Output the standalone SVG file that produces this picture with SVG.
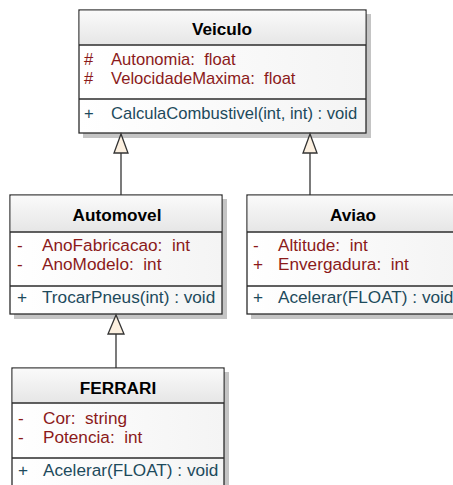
<svg xmlns="http://www.w3.org/2000/svg" width="453" height="485" viewBox="0 0 453 485">
<defs>
<linearGradient id="hdr" x1="0" y1="0" x2="0" y2="1">
<stop offset="0" stop-color="#fafafa"/>
<stop offset="1" stop-color="#e6e6e6"/>
</linearGradient>
<linearGradient id="body" x1="0" y1="0" x2="1" y2="0">
<stop offset="0" stop-color="#ffffff"/>
<stop offset="1" stop-color="#f4f4f4"/>
</linearGradient>
</defs>
<style>
text{font-family:"Liberation Sans",Arial,sans-serif;font-size:17.2px}
#Veiculo text.attr,#Veiculo text.meth{font-size:16.6px}
.title{font-weight:bold;text-anchor:middle;fill:#000}
.attr{fill:#8b1a1a}
.meth{fill:#1d4a5c}
.shadow{fill:#c4c4c4}
.frame{fill:url(#body);stroke:#2b2b2b;stroke-width:1.3}
.head{fill:url(#hdr)}
.sep{stroke:#2b2b2b;stroke-width:1.3}
.conn line{stroke:#333;stroke-width:1.3}
.conn polygon{fill:#fcf0e0;stroke:#333;stroke-width:1.3}
</style>
<rect width="453" height="485" fill="#fff"/>

<g id="Veiculo">
<rect class="shadow" x="83" y="14" width="288" height="124"/>
<rect class="frame" x="79" y="10" width="287" height="123"/>
<rect class="head" x="79.7" y="10.7" width="285.6" height="34"/>
<line class="sep" x1="79" y1="45" x2="366" y2="45"/>
<line class="sep" x1="79" y1="99" x2="366" y2="99"/>
<text class="title" x="222" y="35">Veiculo</text>
<text class="attr" x="84" y="65">#</text><text class="attr" x="111" y="65" xml:space="preserve">Autonomia:  float</text>
<text class="attr" x="84" y="84">#</text><text class="attr" x="111" y="84" xml:space="preserve">VelocidadeMaxima:  float</text>
<text class="meth" x="84" y="119">+</text><text class="meth" x="111" y="119">CalculaCombustivel(int, int) : void</text>
</g>

<g id="Automovel">
<rect class="shadow" x="14" y="199" width="213" height="120"/>
<rect class="frame" x="10" y="195" width="212" height="119"/>
<rect class="head" x="10.7" y="195.7" width="210.6" height="36"/>
<line class="sep" x1="10" y1="232" x2="222" y2="232"/>
<line class="sep" x1="10" y1="286" x2="222" y2="286"/>
<text class="title" x="117" y="221">Automovel</text>
<text class="attr" x="17" y="251">-</text><text class="attr" x="42" y="251" xml:space="preserve">AnoFabricacao:  int</text>
<text class="attr" x="17" y="270">-</text><text class="attr" x="42" y="270" xml:space="preserve">AnoModelo:  int</text>
<text class="meth" x="17" y="303">+</text><text class="meth" x="42" y="303">TrocarPneus(int) : void</text>
</g>

<g id="Aviao">
<rect class="shadow" x="251" y="199" width="213" height="120"/>
<rect class="frame" x="247" y="195" width="212" height="119"/>
<rect class="head" x="247.7" y="195.7" width="210.6" height="36"/>
<line class="sep" x1="247" y1="232" x2="459" y2="232"/>
<line class="sep" x1="247" y1="286" x2="459" y2="286"/>
<text class="title" x="353" y="221">Aviao</text>
<text class="attr" x="253" y="251">-</text><text class="attr" x="278" y="251" xml:space="preserve">Altitude:  int</text>
<text class="attr" x="253" y="270">+</text><text class="attr" x="278" y="270" xml:space="preserve">Envergadura:  int</text>
<text class="meth" x="253" y="303">+</text><text class="meth" x="278" y="303">Acelerar(FLOAT) : void</text>
</g>

<g id="FERRARI">
<rect class="shadow" x="16" y="372" width="213" height="120"/>
<rect class="frame" x="12" y="368" width="212" height="119"/>
<rect class="head" x="12.7" y="368.7" width="210.6" height="34"/>
<line class="sep" x1="12" y1="403" x2="224" y2="403"/>
<line class="sep" x1="12" y1="458" x2="224" y2="458"/>
<text class="title" x="118" y="394">FERRARI</text>
<text class="attr" x="18" y="424">-</text><text class="attr" x="43" y="424" xml:space="preserve">Cor:  string</text>
<text class="attr" x="18" y="443">-</text><text class="attr" x="43" y="443" xml:space="preserve">Potencia:  int</text>
<text class="meth" x="18" y="476">+</text><text class="meth" x="43" y="476">Acelerar(FLOAT) : void</text>
</g>

<g id="connectors" class="conn">
<line x1="121" y1="153" x2="121" y2="195"/>
<polygon points="121,134 114,153 128,153"/>
<line x1="310" y1="153" x2="310" y2="195"/>
<polygon points="310,134 303,153 317,153"/>
<line x1="116" y1="334" x2="116" y2="368"/>
<polygon points="116,315 108,334 124,334"/>
</g>
</svg>
